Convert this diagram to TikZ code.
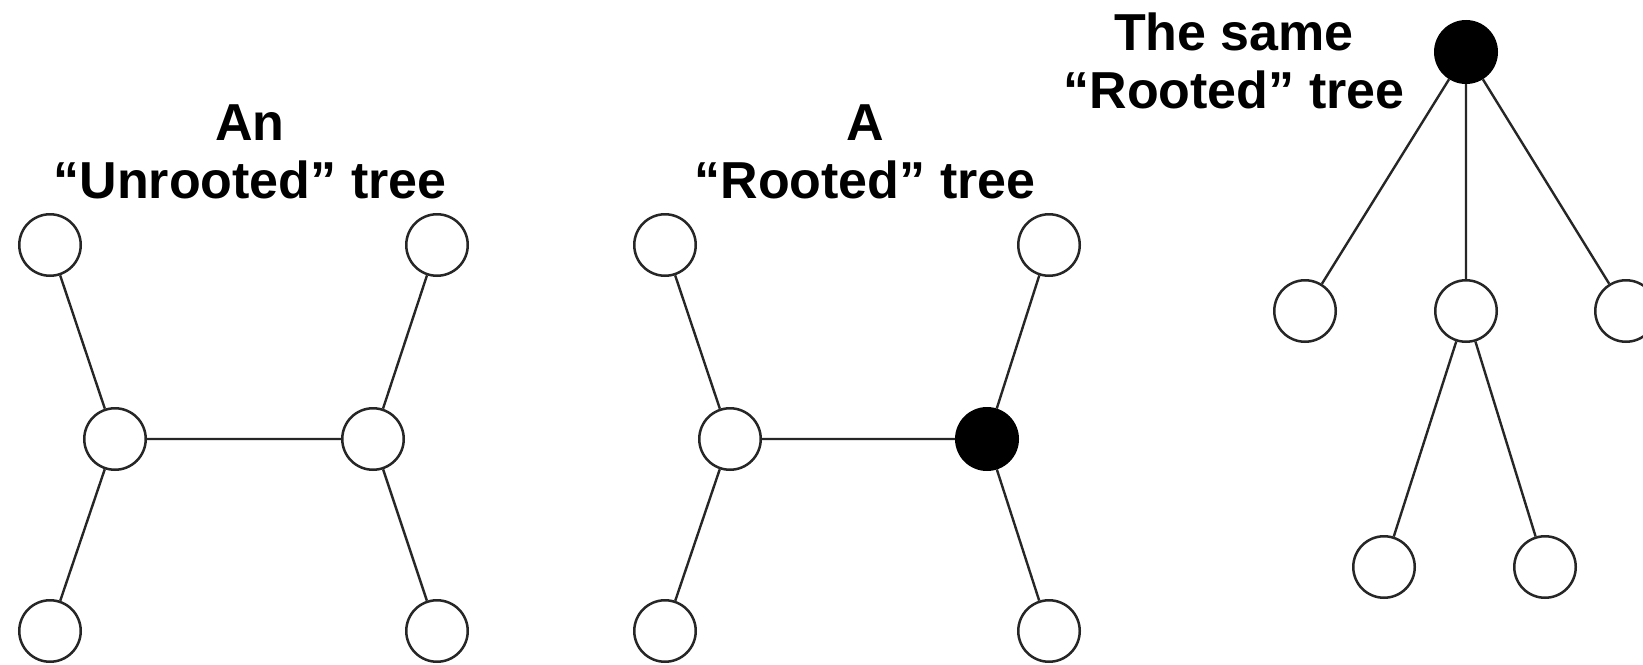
\documentclass[tikz,border=0pt]{standalone}
\usepackage{fontspec}
\setmainfont{Liberation Sans}
\begin{document}
\begin{tikzpicture}[x=1pt,y=-1pt,
  vertex/.style={circle,draw=black!85,line width=2.5pt,fill=white,minimum size=61.5pt,inner sep=0pt},
  root/.style={vertex,fill=black,draw=black},
  edge/.style={draw=black!85,line width=2.4pt},
  caption/.style={anchor=base,inner sep=0pt,font=\fontsize{52}{60}\selectfont\bfseries}]
\useasboundingbox[fill=white] (0,0) rectangle (1643,664);

% unrooted tree
\node[caption] (t1a) at (250,140) {An};
\node[caption] (t1b) at (250,198) {“Unrooted” tree};
\node[vertex] (a1) at (50,245) {};
\node[vertex] (a2) at (437,245) {};
\node[vertex] (a3) at (115,439) {};
\node[vertex] (a4) at (373,439) {};
\node[vertex] (a5) at (50,631) {};
\node[vertex] (a6) at (437,631) {};
\draw[edge] (a1) -- (a3) (a3) -- (a5) (a3) -- (a4) (a4) -- (a2) (a4) -- (a6);

% same tree with a chosen root
\node[caption] (t2a) at (865,140) {A};
\node[caption] (t2b) at (865,198) {“Rooted” tree};
\node[vertex] (b1) at (665,245) {};
\node[vertex] (b2) at (1049,245) {};
\node[vertex] (b3) at (730,439) {};
\node[root]   (b4) at (987,439) {};
\node[vertex] (b5) at (665,631) {};
\node[vertex] (b6) at (1049,631) {};
\draw[edge] (b1) -- (b3) (b3) -- (b5) (b3) -- (b4) (b4) -- (b2) (b4) -- (b6);

% rooted tree redrawn hanging from its root
\node[caption] (t3a) at (1234,50) {The same};
\node[caption] (t3b) at (1234,108) {“Rooted” tree};
\node[root]   (r)  at (1466,52) {};
\node[vertex] (c1) at (1305,311) {};
\node[vertex] (c2) at (1466,311) {};
\node[vertex] (c3) at (1626,311) {};
\node[vertex] (g1) at (1384,567) {};
\node[vertex] (g2) at (1545,567) {};
\draw[edge] (r) -- (c1) (r) -- (c2) (r) -- (c3) (c2) -- (g1) (c2) -- (g2);
\end{tikzpicture}
\end{document}
